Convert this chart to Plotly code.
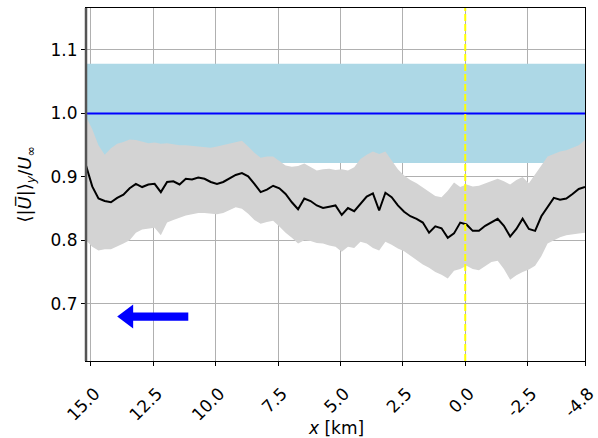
import numpy as np
import plotly.graph_objects as go

# streamwise sample positions (km), 15.2 -> -4.8 in 0.25 km steps
x_km = np.round(np.arange(15.2, -4.8 - 1e-9, -0.25), 2)

mean_u = [0.918, 0.885, 0.866, 0.862, 0.860, 0.867, 0.872, 0.882, 0.889, 0.884,
          0.888, 0.889, 0.876, 0.892, 0.893, 0.888, 0.897, 0.896, 0.899, 0.897,
          0.892, 0.889, 0.892, 0.898, 0.903, 0.906, 0.901, 0.889, 0.876, 0.880,
          0.886, 0.882, 0.873, 0.860, 0.849, 0.866, 0.862, 0.855, 0.851, 0.853,
          0.855, 0.840, 0.851, 0.846, 0.858, 0.869, 0.874, 0.847, 0.875, 0.868,
          0.855, 0.845, 0.838, 0.834, 0.828, 0.812, 0.822, 0.819, 0.804, 0.811,
          0.828, 0.825, 0.815, 0.815, 0.823, 0.828, 0.834, 0.823, 0.806, 0.818,
          0.834, 0.818, 0.815, 0.838, 0.852, 0.867, 0.864, 0.866, 0.873, 0.881,
          0.884]

upper_u = [0.995, 0.975, 0.950, 0.935, 0.945, 0.952, 0.955, 0.959, 0.958, 0.955,
           0.953, 0.954, 0.952, 0.953, 0.951, 0.950, 0.950, 0.949, 0.948, 0.946,
           0.946, 0.948, 0.950, 0.953, 0.955, 0.957, 0.948, 0.938, 0.930, 0.932,
           0.932, 0.925, 0.918, 0.916, 0.917, 0.921, 0.915, 0.910, 0.912, 0.913,
           0.911, 0.912, 0.910, 0.915, 0.928, 0.935, 0.940, 0.936, 0.940, 0.925,
           0.912, 0.902, 0.895, 0.890, 0.883, 0.876, 0.870, 0.868, 0.878, 0.891,
           0.884, 0.888, 0.885, 0.886, 0.890, 0.893, 0.897, 0.893, 0.888, 0.895,
           0.900, 0.890, 0.905, 0.918, 0.932, 0.936, 0.940, 0.942, 0.946, 0.950,
           0.958]

lower_u = [0.800, 0.790, 0.784, 0.786, 0.786, 0.790, 0.795, 0.800, 0.812, 0.817,
           0.819, 0.820, 0.808, 0.828, 0.832, 0.836, 0.839, 0.841, 0.843, 0.843,
           0.842, 0.841, 0.843, 0.848, 0.852, 0.850, 0.842, 0.832, 0.826, 0.829,
           0.831, 0.822, 0.812, 0.804, 0.795, 0.800, 0.799, 0.796, 0.795, 0.792,
           0.790, 0.782, 0.790, 0.788, 0.798, 0.795, 0.788, 0.784, 0.798, 0.793,
           0.787, 0.783, 0.776, 0.770, 0.762, 0.757, 0.750, 0.746, 0.740, 0.752,
           0.755, 0.760, 0.755, 0.753, 0.760, 0.766, 0.768, 0.755, 0.738, 0.745,
           0.750, 0.754, 0.760, 0.775, 0.795, 0.800, 0.805, 0.808, 0.810, 0.811,
           0.812]

inflow_mean = 1.0
inflow_std = 0.078

x_tickvals = [15.0, 12.5, 10.0, 7.5, 5.0, 2.5, 0.0, -2.5, -4.8]
x_ticktext = ["15.0", "12.5", "10.0", "7.5", "5.0", "2.5", "0.0", "-2.5", "-4.8"]
y_tickvals = [0.7, 0.8, 0.9, 1.0, 1.1]
y_ticktext = ["0.7", "0.8", "0.9", "1.0", "1.1"]

# arrow (flow direction) in data units
arrow_tail, arrow_tip, arrow_y = 11.1, 13.95, 0.68

FONT = "DejaVu Sans"

fig = go.Figure()

# inflow band (mean +- std) across the whole domain
x_ends = [x_km[0], x_km[-1]]
fig.add_trace(go.Scatter(x=x_ends, y=[inflow_mean + inflow_std] * 2, mode="lines",
                         line=dict(width=0), showlegend=False, hoverinfo="skip"))
fig.add_trace(go.Scatter(x=x_ends, y=[inflow_mean - inflow_std] * 2, mode="lines",
                         line=dict(width=0), fill="tonexty", fillcolor="#add8e6",
                         showlegend=False, hoverinfo="skip"))

fig.add_trace(go.Scatter(x=x_km, y=upper_u, mode="lines", line=dict(width=0),
                         showlegend=False, hoverinfo="skip"))
fig.add_trace(go.Scatter(x=x_km, y=lower_u, mode="lines", line=dict(width=0),
                         fill="tonexty", fillcolor="#d3d3d3",
                         showlegend=False, hoverinfo="skip"))
fig.add_trace(go.Scatter(x=x_km, y=mean_u, mode="lines",
                         line=dict(color="black", width=2), showlegend=False))

fig.add_hline(y=inflow_mean, line=dict(color="blue", width=2))
fig.add_vline(x=0.0, line=dict(color="yellow", width=2, dash="7px,3px"))

# arrow polygon
head_len = 0.64
sh = 0.0065
hh = 0.019
path = (f"M {arrow_tail} {arrow_y - sh} L {arrow_tip - head_len} {arrow_y - sh} "
        f"L {arrow_tip - head_len} {arrow_y - hh} L {arrow_tip} {arrow_y} "
        f"L {arrow_tip - head_len} {arrow_y + hh} L {arrow_tip - head_len} {arrow_y + sh} "
        f"L {arrow_tail} {arrow_y + sh} Z")
fig.add_shape(type="path", path=path, xref="x", yref="y",
              fillcolor="blue", line=dict(width=0), layer="above")

# left spine drawn darker
fig.add_shape(type="line", xref="paper", yref="paper", x0=0, x1=0, y0=0, y1=1,
              line=dict(color="#555555", width=2.5), layer="above")

TICKFONT = dict(family=FONT, size=17, color="black")
fig.update_xaxes(range=[15.2, -4.8], tickvals=x_tickvals, ticktext=x_ticktext,
                 tickangle=-45, ticks="outside", ticklen=4, tickcolor="black",
                 showgrid=True, gridcolor="#b0b0b0", gridwidth=1,
                 showline=True, linecolor="black", linewidth=1, mirror=True,
                 zeroline=False, tickfont=TICKFONT, automargin=False,
                 ticklabelshift=-4, ticklabelstandoff=11)
fig.update_yaxes(range=[0.61, 1.166], tickvals=y_tickvals, ticktext=y_ticktext,
                 ticks="outside", ticklen=4, tickcolor="black",
                 showgrid=True, gridcolor="#b0b0b0", gridwidth=1,
                 showline=True, linecolor="black", linewidth=1, mirror=True,
                 zeroline=False, tickfont=TICKFONT, automargin=False)

fig.add_annotation(text="<i>x</i> [km]", xref="paper", yref="paper",
                   x=0.5, y=-0.19, showarrow=False, xanchor="center", yanchor="middle",
                   font=dict(family=FONT, size=17, color="black"))
fig.add_annotation(text="⟨|<i>U\u0305</i>|⟩<sub><i>y</i></sub>/<i>U</i><sub>∞</sub>",
                   xref="paper", yref="paper", x=-0.122, y=0.5, textangle=-90,
                   showarrow=False, xanchor="center", yanchor="middle",
                   font=dict(family=FONT, size=18, color="black"))

fig.update_layout(width=598, height=438, plot_bgcolor="white", paper_bgcolor="white",
                  margin=dict(l=86, r=13, t=8, b=77), showlegend=False)

fig.write_html("out.html")
